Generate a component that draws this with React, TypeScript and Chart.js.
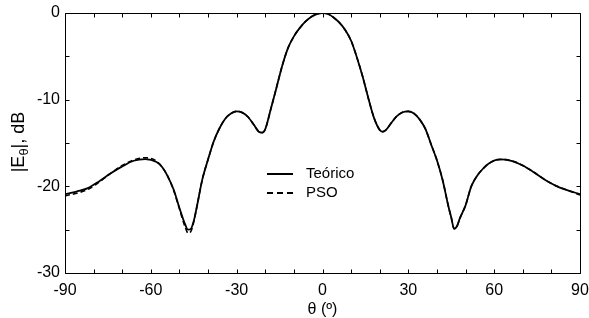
import React, { useEffect, useRef } from "react";
import { Chart, registerables } from "chart.js";

Chart.register(...registerables);

// Angle samples (degrees)
const thetaDeg = [
  -90, -86, -82, -78, -74, -70, -66, -62, -58, -56, -54, -52, -50, -48, -47, -46, -45, -44, -42, -40,
  -38, -36, -34, -32, -30, -28, -26, -24, -22, -21, -20, -18, -16, -14, -12, -10, -8, -6, -4, -2,
  0, 2, 4, 6, 8, 10, 12, 14, 16, 18, 20, 21, 22, 24, 26, 28, 30, 32, 34, 36,
  38, 40, 42, 44, 45, 46, 47, 48, 50, 52, 54, 56, 58, 62, 66, 70, 74, 78, 82, 86, 90,
];

// Theoretical pattern |E_theta| (dB)
const teorico = [
  -20.9, -20.6, -20.2, -19.4, -18.5, -17.7, -17.05, -16.85, -17.2, -17.8, -18.9, -20.4, -22.5, -24.4, -25.0, -24.9, -24.0, -22.5, -19.2, -16.9,
  -14.8, -13.3, -12.2, -11.6, -11.35, -11.5, -12.0, -12.9, -13.75, -13.8, -13.4, -11.0, -8.5, -6.0, -4.0, -2.7, -1.75, -1.0, -0.45, -0.12,
  0.0, -0.12, -0.55, -1.15, -2.0, -3.2, -5.1, -7.3, -9.8, -12.1, -13.5, -13.7, -13.55, -12.7, -11.9, -11.45, -11.35, -11.6, -12.3, -13.4,
  -15.2, -17.0, -19.3, -22.3, -23.6, -24.9, -24.6, -23.7, -22.2, -20.0, -18.8, -18.0, -17.4, -16.9, -17.05, -17.6, -18.4, -19.3, -20.0, -20.5, -20.9,
];

// PSO synthesized pattern (dB)
const pso = [
  -21.1, -20.8, -20.35, -19.5, -18.5, -17.6, -16.95, -16.7, -17.1, -17.8, -18.9, -20.5, -22.6, -24.7, -25.4, -25.2, -24.1, -22.5, -19.2, -16.9,
  -14.8, -13.3, -12.2, -11.6, -11.35, -11.5, -12.0, -12.9, -13.75, -13.8, -13.4, -11.0, -8.5, -6.0, -4.0, -2.7, -1.75, -1.0, -0.45, -0.12,
  0.0, -0.12, -0.55, -1.15, -2.0, -3.2, -5.1, -7.3, -9.8, -12.1, -13.5, -13.7, -13.55, -12.7, -11.9, -11.45, -11.35, -11.6, -12.3, -13.4,
  -15.2, -17.0, -19.3, -22.3, -23.6, -24.9, -24.6, -23.7, -22.2, -20.0, -18.8, -18.0, -17.4, -16.9, -17.05, -17.6, -18.4, -19.3, -20.0, -20.5, -21.0,
];

const seriesNames = ["Teórico", "PSO"];
const xTitle = "θ (º)";
const xMin = -90;
const xMax = 90;
const yMin = -30;
const yMax = 0;

const FONT = "'Liberation Sans', Arial, sans-serif";

const framePlugin = {
  id: "frameTicks",
  afterDatasetsDraw(chart: any) {
    const { ctx, chartArea: a, scales } = chart;
    const xs = scales.x;
    const ys = scales.y;
    const L = Math.round(a.left) + 0.5;
    const R = Math.round(a.right) + 0.5;
    const T = Math.round(a.top) + 0.5;
    const B = Math.round(a.bottom) + 0.5;
    ctx.save();
    ctx.strokeStyle = "#000";
    ctx.lineWidth = 1;
    ctx.beginPath();
    ctx.rect(L, T, R - L, B - T);
    ctx.stroke();
    const tl = 4;
    ctx.beginPath();
    xs.ticks.forEach((t: any) => {
      const px = Math.round(xs.getPixelForValue(t.value)) + 0.5;
      ctx.moveTo(px, B);
      ctx.lineTo(px, B - tl);
      ctx.moveTo(px, T);
      ctx.lineTo(px, T + tl);
    });
    ys.ticks.forEach((t: any) => {
      const py = Math.round(ys.getPixelForValue(t.value)) + 0.5;
      ctx.moveTo(L, py);
      ctx.lineTo(L + tl, py);
      ctx.moveTo(R, py);
      ctx.lineTo(R - tl, py);
    });
    ctx.stroke();

    // Legend
    const lx0 = a.left + 202;
    const lx1 = a.left + 228;
    const tx = a.left + 241;
    const y1 = a.top + 161;
    const y2 = a.top + 180;
    ctx.lineWidth = 2;
    ctx.beginPath();
    ctx.moveTo(lx0, y1);
    ctx.lineTo(lx1, y1);
    ctx.stroke();
    ctx.setLineDash([6, 4]);
    ctx.beginPath();
    ctx.moveTo(lx0, y2);
    ctx.lineTo(lx1, y2);
    ctx.stroke();
    ctx.setLineDash([]);
    ctx.fillStyle = "#000";
    ctx.font = `15px ${FONT}`;
    ctx.textBaseline = "middle";
    ctx.textAlign = "left";
    ctx.fillText(seriesNames[0], tx, y1);
    ctx.fillText(seriesNames[1], tx, y2);

    // X title
    ctx.font = `16px ${FONT}`;
    ctx.textAlign = "center";
    ctx.fillText(xTitle, (a.left + a.right) / 2, a.bottom + 37);

    // Y title with subscript
    const cx = 19;
    const cy = (a.top + a.bottom) / 2 - 1;
    ctx.translate(cx, cy);
    ctx.rotate(-Math.PI / 2);
    const big = `18px ${FONT}`;
    const small = `13px ${FONT}`;
    const parts = [
      { t: "|E", f: big, dy: 0 },
      { t: "θ", f: small, dy: 5 },
      { t: "|, dB", f: big, dy: 0 },
    ];
    let total = 0;
    parts.forEach((p) => {
      ctx.font = p.f;
      total += ctx.measureText(p.t).width;
    });
    let x = -total / 2;
    ctx.textAlign = "left";
    parts.forEach((p) => {
      ctx.font = p.f;
      ctx.fillText(p.t, x, p.dy);
      x += ctx.measureText(p.t).width;
    });
    ctx.restore();
  },
};

export default function App() {
  const canvasRef = useRef<HTMLCanvasElement | null>(null);

  useEffect(() => {
    if (!canvasRef.current) return;
    const chart = new Chart(canvasRef.current, {
      type: "line",
      data: {
        datasets: [
          {
            label: seriesNames[1],
            data: thetaDeg.map((t, i) => ({ x: t, y: pso[i] })),
            borderColor: "#000",
            borderWidth: 1.6,
            borderDash: [5, 3],
            pointRadius: 0,
            tension: 0.4,
            cubicInterpolationMode: "monotone",
            fill: false,
          },
          {
            label: seriesNames[0],
            data: thetaDeg.map((t, i) => ({ x: t, y: teorico[i] })),
            borderColor: "#000",
            borderWidth: 1.8,
            pointRadius: 0,
            tension: 0.4,
            cubicInterpolationMode: "monotone",
            fill: false,
          },
        ],
      },
      options: {
        animation: false,
        responsive: true,
        maintainAspectRatio: false,
        layout: { padding: { top: 13, right: 9, left: 0, bottom: 0 } },
        plugins: {
          legend: { display: false },
          tooltip: { enabled: false },
        },
        scales: {
          x: {
            type: "linear",
            min: xMin,
            max: xMax,
            grid: { display: false, drawTicks: false },
            border: { display: false },
            ticks: {
              stepSize: 10,
              autoSkip: false,
              maxRotation: 0,
              padding: 8,
              color: "#000",
              font: { family: FONT, size: 16 },
              callback: (v: any) => (Number(v) % 30 === 0 ? String(v) : ""),
            },
            afterFit: (s: any) => {
              s.height = 45;
              s.paddingLeft = 0;
              s.paddingRight = 0;
            },
          },
          y: {
            type: "linear",
            min: yMin,
            max: yMax,
            grid: { display: false, drawTicks: false },
            border: { display: false },
            ticks: {
              stepSize: 5,
              autoSkip: false,
              padding: 5,
              color: "#000",
              font: { family: FONT, size: 16 },
              callback: (v: any) => (Number(v) % 10 === 0 ? String(v) : ""),
            },
            afterFit: (s: any) => {
              s.width = 65;
              s.paddingTop = 0;
              s.paddingBottom = 0;
            },
          },
        },
      },
      plugins: [framePlugin],
    });
    return () => chart.destroy();
  }, []);

  return (
    <div style={{ position: "fixed", left: 0, top: 0, width: 589, height: 318, background: "#fff" }}>
      <canvas ref={canvasRef} />
    </div>
  );
}
